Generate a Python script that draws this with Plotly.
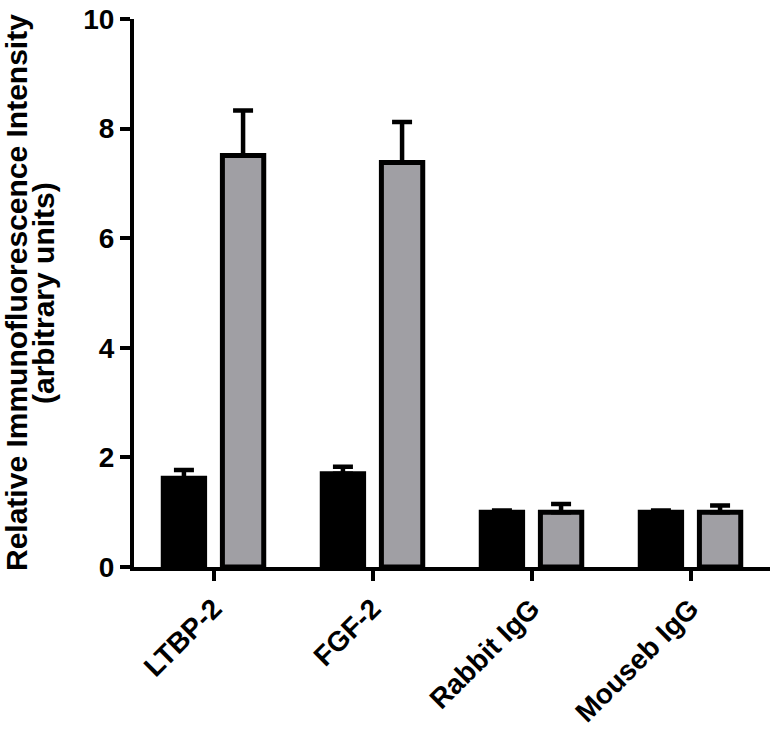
import plotly.graph_objects as go

categories = ["LTBP-2", "FGF-2", "Rabbit IgG", "Mouseb IgG"]
black_values = [1.62, 1.70, 1.00, 1.00]
black_upper = [1.77, 1.83, 1.03, 1.03]
gray_values = [7.51, 7.38, 1.00, 1.00]
gray_upper = [8.33, 8.12, 1.15, 1.12]
y_ticks = [0, 2, 4, 6, 8, 10]

FONT = "Liberation Sans"

def err(vals, upper):
    return [u - v for v, u in zip(vals, upper)]

fig = go.Figure()
for vals, upper, fill, off in [
    (black_values, black_upper, "#000000", -0.316),
    (gray_values, gray_upper, "#a09fa4", 0.056),
]:
    fig.add_trace(go.Bar(
        x=categories, y=vals, width=0.26, offset=off,
        marker=dict(color=fill, line=dict(color="black", width=5)),
        error_y=dict(type="data", array=err(vals, upper), arrayminus=[0] * len(vals),
                     symmetric=False, color="black", thickness=4.5, width=10),
        showlegend=False,
    ))

fig.update_layout(
    barmode="overlay",
    width=773, height=735,
    margin=dict(l=134, r=3, t=19, b=168),
    plot_bgcolor="white", paper_bgcolor="white",
    font=dict(family=FONT, color="black"),
    xaxis=dict(type="category", range=[-0.5, 3.5], showline=True, linewidth=4, linecolor="black",
               ticks="outside", ticklen=10, tickwidth=4, tickcolor="black", tickangle=-45,
               automargin=False,
               tickfont=dict(family=FONT, size=28, color="black", weight="bold"),
               showgrid=False, zeroline=False),
    yaxis=dict(range=[0, 10], tickvals=y_ticks, showline=True, linewidth=4, linecolor="black",
               ticks="outside", ticklen=10, tickwidth=4, tickcolor="black",
               ticklabeloverflow="allow", automargin=False,
               tickfont=dict(family=FONT, size=28, color="black", weight="bold"),
               showgrid=False, zeroline=False),
    annotations=[
        dict(text="Relative Immunofluorescence Intensity", textangle=-90,
             xref="paper", yref="paper", x=0, y=0.5, xanchor="center", yanchor="middle",
             xshift=-118, showarrow=False,
             font=dict(family=FONT, size=30, color="black", weight="bold")),
        dict(text="(arbitrary units)", textangle=-90,
             xref="paper", yref="paper", x=0, y=0.5, xanchor="center", yanchor="middle",
             xshift=-91, showarrow=False,
             font=dict(family=FONT, size=30, color="black", weight="bold")),
    ],
)

fig.write_html("out.html", config={"displayModeBar": False},
               post_script="document.body.style.margin='0';")
